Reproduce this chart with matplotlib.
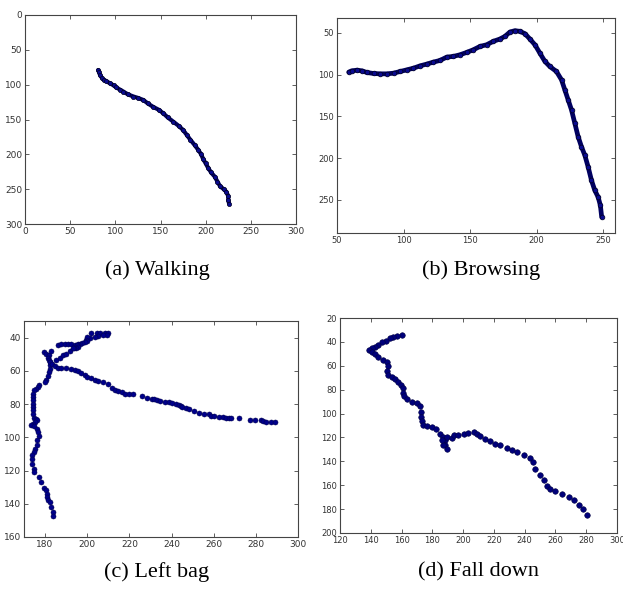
import matplotlib
matplotlib.use("Agg")
import matplotlib.pyplot as plt

# ---------------- data ----------------
walk_x = [81, 82, 83, 85, 87, 90, 94, 98, 101, 105, 109, 114, 120, 125, 131, 136, 142, 148, 153,
          158, 164, 170, 175, 179, 183, 188, 192, 195, 197, 200, 203, 206, 210, 213, 216, 220, 223, 225, 225, 226]
walk_y = [79, 82, 86, 90, 93, 95, 98, 101, 104, 107, 110, 114, 117, 119, 122, 127, 132, 136, 141,
          147, 153, 159, 165, 172, 179, 187, 194, 200, 206, 213, 220, 226, 232, 239, 246, 250, 254, 260, 266, 271]

browse_x = [58.8, 61, 65, 68.8, 72.5, 77.5, 82.5, 87.5, 92.5, 97.5, 102.5, 107.5, 112.5, 117.5, 122.5,
            127.5, 132.5, 137.5, 142.5, 147.5, 152.5, 157.5, 162.5, 167.5, 172.5, 176.3, 180, 183.8,
            187.5, 191.3, 195, 198.8, 202.5, 206.3, 210, 215, 218.8, 221.3, 223.8, 226.3, 228.8,
            231.3, 233.8, 236.3, 238.8, 241.3, 243.8, 246.3, 248, 249]
browse_y = [97, 95.4, 94.6, 95.4, 97.4, 98.6, 99, 99, 98.2, 96.2, 94.2, 92.2, 89.4, 87.3, 84.9,
            82.9, 78.9, 78.1, 76.1, 73.3, 70.1, 66.1, 64.1, 60, 57.2, 54, 48.8, 47.2,
            48, 50.8, 57.2, 64.1, 74.1, 84.1, 90.2, 96.2, 106.2, 118.3, 130.3, 142.3, 158.4,
            174.5, 186.5, 196.6, 210.6, 226.7, 238.8, 246.8, 256.8, 270.9]

bag_x = [202.0, 204.4, 206.0, 208.4, 210.0, 209.2, 207.6, 205.2, 203.6, 201.2, 199.9, 199.3, 199.9,
         198.8, 197.7, 196.4, 195.6,
         186.1, 187.7, 189.3, 190.8, 192.4, 194.0, 195.2, 195.6, 194.5, 193.6,
         185.3, 186.9, 188.5, 190.0, 191.6, 193.2,
         179.7, 180.5, 181.8, 182.9, 181.3, 181.8, 182.1, 182.1, 182.1, 181.8, 181.3, 180.5, 180.2,
         182.1, 183.3, 184.5, 186.1, 187.7, 190.0,
         192.4, 194.0, 195.6, 197.2, 198.8, 199.9, 202.0, 203.6, 205.2, 207.6, 210.0, 211.6, 213.2,
         214.8, 216.4, 218.0, 219.6, 221.9, 225.9, 228.3, 230.7, 231.8, 233.1, 234.7, 237.1, 238.7,
         240.3, 241.9, 243.5, 244.3, 245.1, 246.7, 248.3, 250.7, 253.0, 255.4, 257.8, 258.6, 260.2,
         262.6, 264.2, 265.8, 267.4, 268.2, 272.2, 277.0, 279.4, 282.6, 283.3, 284.9, 287.3, 288.9,
         177.3, 176.5, 175.7, 174.9, 174.4, 174.4, 174.4, 174.4, 174.4, 174.4, 174.4, 174.9, 175.7,
         176.0, 175.4, 174.1, 173.3, 174.9, 176.0, 176.5, 177.0, 176.0, 176.0, 175.4, 174.6, 173.8,
         173.8, 173.8, 174.6, 174.9, 177.0, 178.1, 179.7, 180.5, 180.8, 180.8, 181.3, 182.1, 182.9,
         183.7, 183.7]
bag_y = [37.0, 37.0, 37.2, 37.0, 37.2, 38.2, 38.2, 39.0, 39.6, 40.0, 39.6, 41.2, 42.0,
         42.6, 43.2, 43.6, 44.0,
         44.2, 44.0, 44.0, 44.0, 44.0, 44.2, 44.6, 45.6, 46.2, 46.2,
         53.7, 52.0, 50.6, 49.6, 48.0, 46.2,
         48.6, 49.6, 50.6, 48.0, 52.0, 53.7, 54.7, 56.7, 58.7, 60.7, 63.3, 65.3, 66.7,
         54.7, 55.7, 57.3, 58.3, 58.3, 58.3,
         59.1, 59.7, 60.1, 61.1, 62.7, 63.7, 64.3, 65.3, 66.1, 66.9, 68.1, 70.1, 71.7,
         72.3, 72.9, 73.7, 74.1, 73.9, 75.1, 76.1, 76.9, 76.9, 77.3, 78.2, 79.0, 79.0,
         79.2, 79.8, 80.6, 81.4, 81.8, 82.4, 83.2, 84.2, 85.2, 85.8, 86.0, 87.0, 87.4,
         87.8, 87.8, 88.2, 88.2, 88.2, 88.6, 89.8, 89.8, 89.8, 90.2, 90.8, 91.0, 91.0,
         68.7, 69.7, 70.7, 71.7, 73.7, 75.7, 77.8, 79.8, 81.8, 83.8, 85.8, 88.2, 88.8,
         89.8, 90.8, 91.8, 92.4, 93.4, 94.8, 96.8, 99.4, 101.8, 104.9, 106.9, 108.9, 110.9,
         112.9, 115.9, 118.9, 120.9, 123.9, 126.9, 130.4, 132.0, 134.0, 136.0, 138.0, 139.0, 142.0,
         145.0, 147.6]

fall_x = [160.1, 157.3, 154.7, 152.5, 149.9, 147.1, 144.9, 142.8, 140.6, 139.1, 140.6, 142.8, 144.9,
          147.8, 150.8, 151.5, 150.8, 151.5, 153.6, 155.8, 158.0, 159.5, 160.8, 160.8, 161.6, 163.4,
          166.6, 169.9, 172.1, 172.5, 172.5, 173.1, 174.2, 176.8, 179.7, 182.5, 185.1, 187.2, 188.3,
          188.3, 189.4, 187.2, 186.2, 189.4, 192.7, 193.8, 197.0, 200.3, 203.5, 206.8, 209.0, 211.1,
          214.4, 217.6, 220.9, 224.1, 228.5, 231.7, 235.0, 239.3, 243.6, 245.4, 246.9, 250.2, 252.3,
          254.5, 256.7, 259.9, 264.3, 268.6, 271.8, 275.1, 277.9, 280.5]
fall_y = [33.9, 35.3, 36.2, 37.0, 38.9, 40.3, 42.6, 44.5, 45.3, 46.5, 48.1, 50.1, 52.9,
          54.8, 56.5, 59.8, 64.0, 67.6, 69.6, 71.0, 73.2, 76.0, 78.8, 82.7, 85.5, 88.2,
          90.5, 91.0, 93.8, 98.8, 103.0, 106.6, 109.4, 110.5, 111.4, 113.3, 116.9, 119.7, 122.5,
          126.1, 129.5, 126.7, 122.5, 119.7, 120.6, 118.3, 117.8, 116.9, 116.4, 115.5, 116.9, 119.2,
          121.1, 123.3, 125.3, 126.7, 128.6, 130.3, 132.3, 135.0, 137.3, 140.6, 146.2, 151.8, 155.9,
          160.7, 163.5, 165.1, 167.1, 169.9, 172.6, 176.8, 180.2, 184.6]

captions = ["(a) Walking", "(b) Browsing", "(c) Left bag", "(d) Fall down"]

# ---------------- figure ----------------
W, H = 623, 598
fig = plt.figure(figsize=(W / 100, H / 100), dpi=100)

def px_axes(l, t, r, b):
    return fig.add_axes([l / W, 1 - b / H, (r - l) / W, (b - t) / H])

def style(ax, xlim, ylim, xt, yt, fs=6.5):
    ax.set_xlim(*xlim)
    ax.set_ylim(*ylim)
    ax.set_xticks(xt)
    ax.set_yticks(yt)
    ax.tick_params(direction="in", length=3, width=0.6, top=True, right=True,
                   labelsize=fs, labelcolor="#333333", color="#444444", pad=2)
    for s in ax.spines.values():
        s.set_color("#444444")
        s.set_linewidth(0.8)

dark = "#000060"
face = "#0a0a90"

ax1 = px_axes(25, 15, 296, 224)
ax1.plot(walk_x, walk_y, "-", color=dark, lw=3.0, solid_capstyle="round")
ax1.plot(walk_x, walk_y, "o", ms=3.0, mfc=face, mec="#000020", mew=0.5)
style(ax1, (0, 300), (300, 0), range(0, 301, 50), range(0, 301, 50))

ax2 = px_axes(337, 18, 615, 233)
ax2.plot(browse_x, browse_y, "-", color=dark, lw=3.4, solid_capstyle="round")
ax2.plot(browse_x, browse_y, "o", ms=3.4, mfc=face, mec="#000020", mew=0.5)
style(ax2, (50, 259), (290, 32), range(50, 251, 50), range(50, 251, 50), fs=6)

ax3 = px_axes(24, 321, 298, 537)
ax3.scatter(bag_x, bag_y, s=13, c="#00008a", edgecolors="#000050", linewidths=0.4)
style(ax3, (170, 300), (160, 30), range(180, 301, 20), range(40, 161, 20))

ax4 = px_axes(340, 318, 617, 533)
ax4.scatter(fall_x, fall_y, s=16, c="#00007a", edgecolors="#000040", linewidths=0.4)
style(ax4, (120, 300), (200, 20), range(120, 301, 20), range(20, 201, 20), fs=6)

cap_pos = [(157, 270), (481, 270), (157, 572), (478, 572)]
for txt, (cx, cy) in zip(captions, cap_pos):
    fig.text(cx / W, 1 - cy / H, txt, ha="center", va="center",
             fontsize=16, family="Liberation Serif")

fig.savefig("out.png", dpi=100)
